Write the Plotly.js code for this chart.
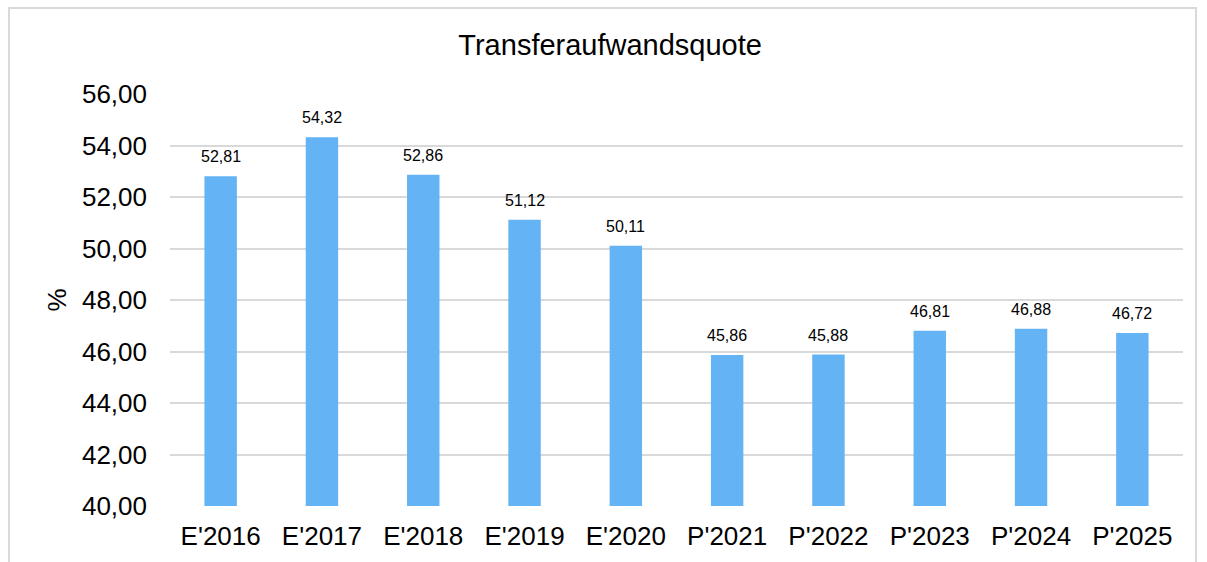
<!DOCTYPE html>
<html>
<head>
<meta charset="utf-8">
<script src="https://cdn.plot.ly/plotly-3.0.1.min.js"></script>
<style>
html,body{margin:0;padding:0;background:#fff;overflow:hidden;}
#frame{position:absolute;left:8px;top:7px;width:1189px;height:600px;border:2px solid #d9d9d9;box-sizing:border-box;pointer-events:none;z-index:5;}
#chart{width:1207px;height:562px;}
</style>
</head>
<body>
<div id="frame"></div>
<div id="chart"></div>
<script>
const categories = ["E'2016","E'2017","E'2018","E'2019","E'2020","P'2021","P'2022","P'2023","P'2024","P'2025"];
const values = [52.81, 54.32, 52.86, 51.12, 50.11, 45.86, 45.88, 46.81, 46.88, 46.72];
const yTicks = [40,42,44,46,48,50,52,54,56];
const yTickLabels = ["40,00","42,00","44,00","46,00","48,00","50,00","52,00","54,00","56,00"];

const fmt = v => v.toFixed(2).replace('.', ',');

const trace = {
  type: 'bar',
  x: categories,
  y: values,
  base: 0,
  marker: {color: '#63b3f5', line: {width: 0}},
  width: 0.32,
  hoverinfo: 'none'
};

const annotations = categories.map((c, i) => ({
  x: c, y: values[i], xref: 'x', yref: 'y',
  text: fmt(values[i]),
  showarrow: false,
  yanchor: 'bottom',
  yshift: 9,
  font: {family: 'Liberation Sans, Arial, sans-serif', size: 16, color: '#000'}
}));

const layout = {
  width: 1207, height: 562,
  margin: {l: 170, r: 24, t: 94, b: 56},
  paper_bgcolor: '#fff', plot_bgcolor: '#fff',
  font: {family: 'Liberation Sans, Arial, sans-serif', color: '#000'},
  showlegend: false,
  title: {text: 'Transferaufwandsquote', x: 0.5055, xref: 'container', xanchor: 'center', y: 0.92, yref: 'container', yanchor: 'middle',
          font: {size: 29, color: '#000'}},
  xaxis: {
    type: 'category',
    tickfont: {size: 26, color: '#000'},
    showgrid: false, zeroline: false, showline: false,
    ticks: '', ticklabelstandoff: 12
  },
  yaxis: {
    range: [40, 56],
    tickvals: yTicks, ticktext: yTickLabels,
    tickfont: {size: 26, color: '#000'},
    showgrid: true, gridcolor: '#d9d9d9', gridwidth: 2,
    zeroline: false, showline: false, ticks: '', ticklabelstandoff: 22,
    title: {text: '%', font: {size: 26, color: '#000'}, standoff: 7}
  },
  annotations: annotations
};

Plotly.newPlot('chart', [trace], layout, {staticPlot: true, displayModeBar: false});
</script>
</body>
</html>
